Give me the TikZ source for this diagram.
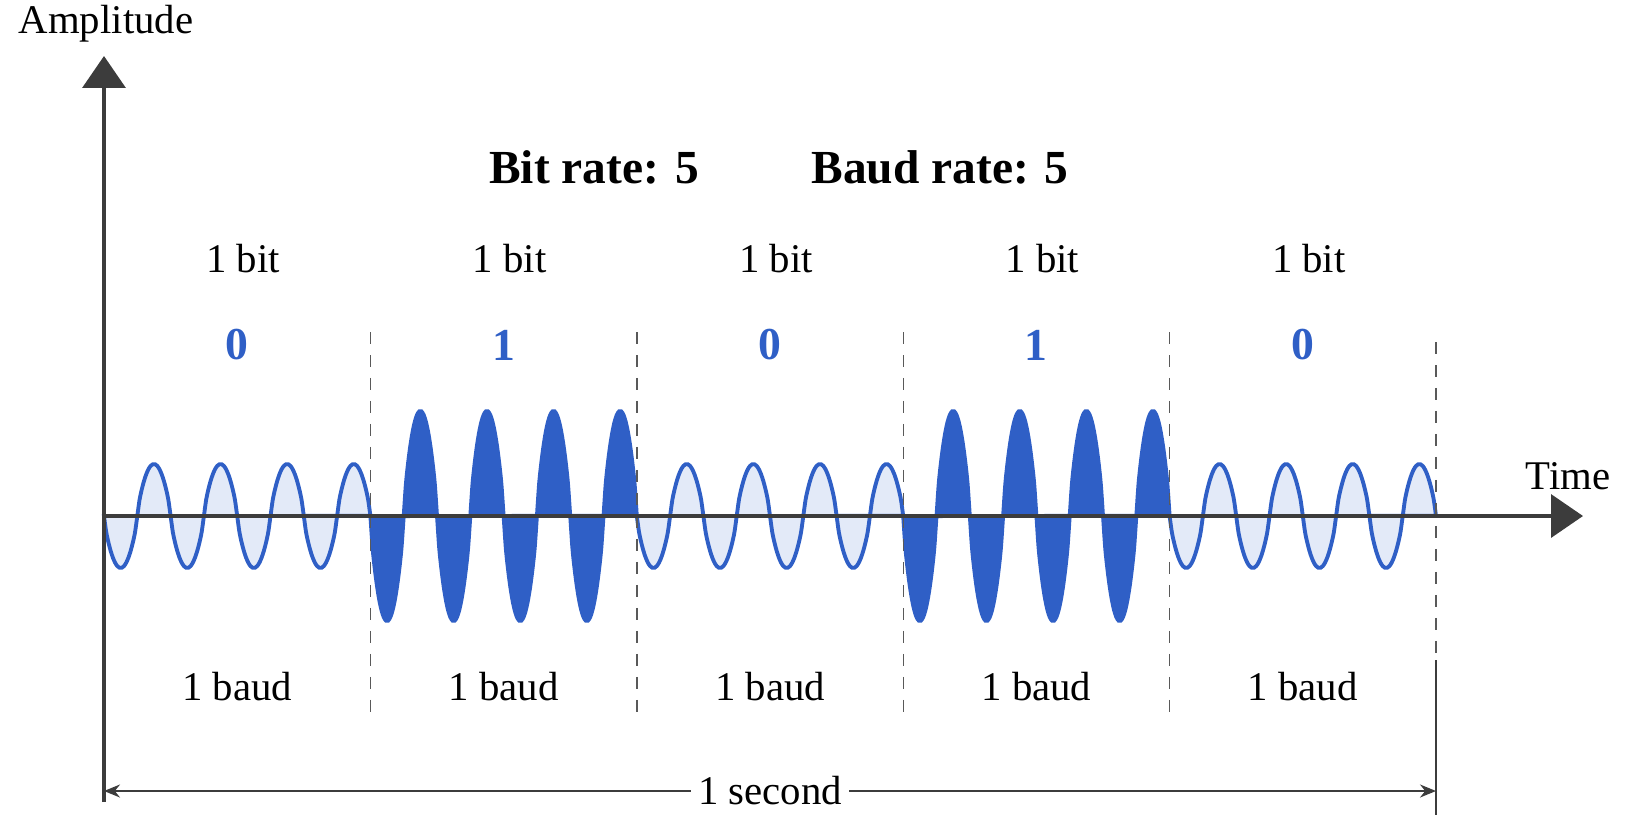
\documentclass[tikz,border=0pt]{standalone}
\usepackage{fontspec}
\setmainfont{Liberation Serif}
\usepackage{xcolor}
\usepackage{tikz}
\usetikzlibrary{arrows.meta, positioning, calc}
\definecolor{ondaazul}{HTML}{2F5FC6}
\definecolor{ondaclaro}{HTML}{E3EAF8}
\definecolor{ejegris}{HTML}{3C3C3C}
\tikzset{
  texto/.style={inner sep=0pt, font=\fontsize{23.2}{28}\selectfont},
  titulo/.style={inner sep=0pt, font=\fontsize{27}{32}\selectfont\bfseries},
  valor/.style={inner sep=0pt, text=ondaazul, font=\fontsize{26}{30}\selectfont\bfseries},
  eje/.style={-{Triangle[length=0.64cm, width=0.86cm]}, line width=2pt, color=ejegris},
  corte/.style={dash pattern=on 0.24cm off 0.22cm, line width=0.8pt, color=ejegris!85},
  segundo/.style={-{Stealth[length=0.32cm, width=0.26cm]}, line width=1.1pt, color=ejegris},
  debil/.style={draw=ondaazul, fill=ondaclaro, line width=2.2pt},
  fuerte/.style={draw=ondaazul, fill=ondaazul, line width=2.2pt},
}

\begin{document}
\begin{tikzpicture}[x=0.02cm, y=-0.02cm]
  \useasboundingbox (0,0) rectangle (1628,815);
  % ejes
  \coordinate (O) at (104,516);
  \coordinate (ybot) at (104,802);
  \coordinate (ytip) at (104,56);
  \coordinate (xtip) at (1583,516);
  \node[texto] (amp) at (106,24) {Amplitude};
  \node[texto] (time) at (1568,476) {Time};
  \node[titulo] (bitrate) at (594,167) {Bit rate: 5};
  \node[titulo] (baudrate) at (940,167) {Baud rate: 5};
  % una senal por baudio
  \foreach \b/\amp/\st [count=\k from 0] in {0/52/debil, 1/105/fuerte, 0/52/debil, 1/105/fuerte, 0/52/debil} {
    \pgfmathsetmacro{\xa}{104+266.4*\k}
    \pgfmathsetmacro{\xb}{\xa+266.4}
    \pgfmathsetmacro{\xm}{\xa+133.2}
    \path[\st] plot[domain=\xa:\xb, samples=121, smooth]
      (\x, {516+\amp*ifthenelse(sin(5.4054*(\x-\xa))<0,-1,1)*(abs(sin(5.4054*(\x-\xa)))+0.0001)^0.75}) -- cycle;
    \node[texto] (bit\k) at (\xm+6,259) {1 bit};
    \node[valor] (val\k) at (\xm,345) {\b};
    \node[texto] (baud\k) at (\xm,687) {1 baud};
  }
  \foreach \k in {1,...,4}
    \draw[corte] ({104+266.4*\k},332) -- ({104+266.4*\k},716);
  \draw[corte] (1436,342) -- (1436,660);
  \draw[eje] (O) -- (xtip);
  \draw[eje] (ybot) -- (ytip);
  % 1 segundo
  \coordinate (secL) at (104,791);
  \coordinate (secR) at (1436,791);
  \node[texto, fill=white, inner xsep=4pt] (sec) at (770,791) {1 second};
  \draw[segundo] (sec) -- (secL);
  \draw[segundo] (sec) -- (secR);
  \draw[line width=1.1pt, color=ejegris] (1436,660) -- (1436,815);
\end{tikzpicture}
\end{document}
